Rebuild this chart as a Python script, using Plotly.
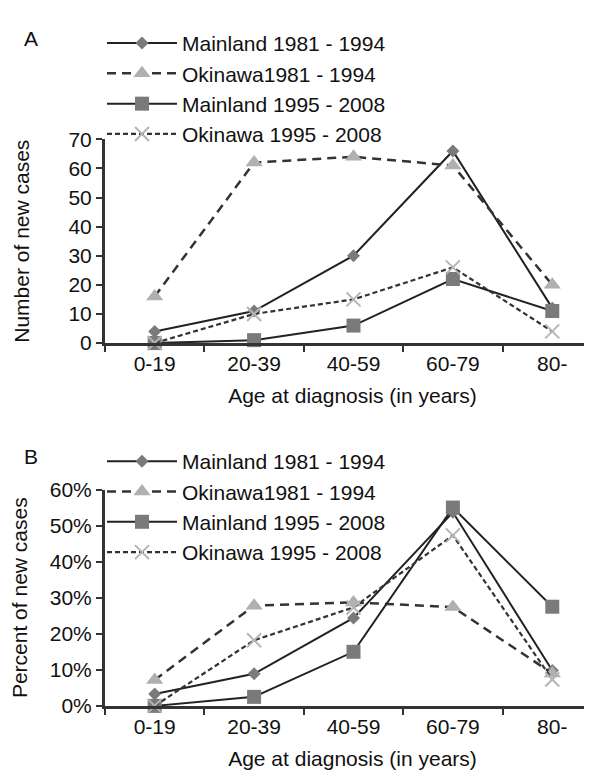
import plotly.graph_objects as go

age_groups = ["0-19", "20-39", "40-59", "60-79", "80-"]

series_names = ["Mainland 1981 - 1994", "Okinawa1981 - 1994",
                "Mainland 1995 - 2008", "Okinawa 1995 - 2008"]

# Panel A: number of new cases
cases_mainland_81 = [4, 11, 30, 66, 12]
cases_okinawa_81 = [16, 62, 64, 61, 20]
cases_mainland_95 = [0, 1, 6, 22, 11]
cases_okinawa_95 = [0, 10, 15, 26, 4]

# Panel B: percent of new cases
pct_mainland_81 = [3.3, 8.9, 24.4, 53.7, 9.8]
pct_okinawa_81 = [7.2, 27.8, 28.7, 27.4, 9.0]
pct_mainland_95 = [0.0, 2.5, 15.0, 55.0, 27.5]
pct_okinawa_95 = [0.0, 18.2, 27.3, 47.3, 7.3]

y_ticks_a = [0, 10, 20, 30, 40, 50, 60, 70]
y_ticks_b = [0, 10, 20, 30, 40, 50, 60]
y_ticktext_b = ["0%", "10%", "20%", "30%", "40%", "50%", "60%"]

FONT = "Arial, 'Liberation Sans', Helvetica, sans-serif"
AX = "#333333"
FS = 21

styles = [
    dict(line=dict(color="#222222", width=2, dash="solid"),
         marker=dict(symbol="diamond", size=10, color="#7a7a7a")),
    dict(line=dict(color="#333333", width=2.5, dash="9px,6px"),
         marker=dict(symbol="triangle-up", size=15, color="#b0b0b0")),
    dict(line=dict(color="#222222", width=2, dash="solid"),
         marker=dict(symbol="square", size=14, color="#7a7a7a")),
    dict(line=dict(color="#333333", width=2.2, dash="5px,3px"),
         marker=dict(symbol="x-thin", size=14, color="#b5b5b5",
                     line=dict(width=2, color="#b5b5b5"))),
]

fig = go.Figure()

panel_a = [cases_mainland_81, cases_okinawa_81, cases_mainland_95, cases_okinawa_95]
panel_b = [pct_mainland_81, pct_okinawa_81, pct_mainland_95, pct_okinawa_95]

for name, vals, st in zip(series_names, panel_a, styles):
    fig.add_trace(go.Scatter(x=age_groups, y=vals, name=name, mode="lines+markers",
                             line=st["line"], marker=st["marker"], cliponaxis=False,
                             xaxis="x", yaxis="y", legend="legend"))

for name, vals, st in zip(series_names, panel_b, styles):
    fig.add_trace(go.Scatter(x=age_groups, y=vals, name=name, mode="lines+markers",
                             line=st["line"], marker=st["marker"], cliponaxis=False,
                             xaxis="x2", yaxis="y2", legend="legend2"))

H = 770.0
W = 592.0
xdom = [97 / W, 1.0]

xaxis_common = dict(
    type="category", range=[-0.5, 4.48], showline=True, linecolor=AX, linewidth=3,
    ticks="outside", tickson="boundaries", ticklen=6, tickwidth=2, tickcolor=AX,
    showgrid=False, zeroline=False, tickfont=dict(size=FS, color="#111", family=FONT),
    title=dict(text="Age at diagnosis (in years)", font=dict(size=FS, color="#111", family=FONT),
               standoff=15),
    domain=xdom, fixedrange=True,
)
yaxis_common = dict(
    showline=True, linecolor=AX, linewidth=3, ticks="outside", ticklen=6, tickwidth=2,
    tickcolor=AX, showgrid=False, zeroline=False,
    tickfont=dict(size=FS, color="#111", family=FONT), fixedrange=True,
)

fig.update_layout(
    width=592, height=770, margin=dict(l=0, r=0, t=0, b=0),
    paper_bgcolor="white", plot_bgcolor="white",
    font=dict(family=FONT, size=FS, color="#111"),
    xaxis=dict(**xaxis_common, anchor="y"),
    xaxis2=dict(**xaxis_common, anchor="y2"),
    yaxis=dict(**yaxis_common, anchor="x", range=[0, 70], tickvals=y_ticks_a,
               domain=[1 - 333 / H, 1 - 123 / H],
               title=dict(text="Number of new cases", font=dict(size=FS, family=FONT, color="#111"),
                          standoff=34)),
    yaxis2=dict(**yaxis_common, anchor="x2", range=[0, 60], tickvals=y_ticks_b,
                ticktext=y_ticktext_b, domain=[1 - 707 / H, 1 - 484 / H],
                title=dict(text="Percent of new cases", font=dict(size=FS, family=FONT, color="#111"),
                           standoff=18)),
    legend=dict(x=94 / W, y=1 - 3 / H, xanchor="left", yanchor="top",
                bgcolor="rgba(0,0,0,0)", font=dict(size=FS, family=FONT, color="#111"),
                itemwidth=70, tracegroupgap=0),
    legend2=dict(x=94 / W, y=1 - 434 / H, xanchor="left", yanchor="top",
                 bgcolor="rgba(0,0,0,0)", font=dict(size=FS, family=FONT, color="#111"),
                 itemwidth=70, tracegroupgap=0),
    annotations=[
        dict(text="A", x=14 / W, y=1 - 19 / H, xref="paper", yref="paper",
             xanchor="left", yanchor="middle", showarrow=False,
             font=dict(size=FS, family=FONT, color="#111")),
        dict(text="B", x=14 / W, y=1 - 450 / H, xref="paper", yref="paper",
             xanchor="left", yanchor="middle", showarrow=False,
             font=dict(size=FS, family=FONT, color="#111")),
    ],
)

fig.write_html("out.html")
